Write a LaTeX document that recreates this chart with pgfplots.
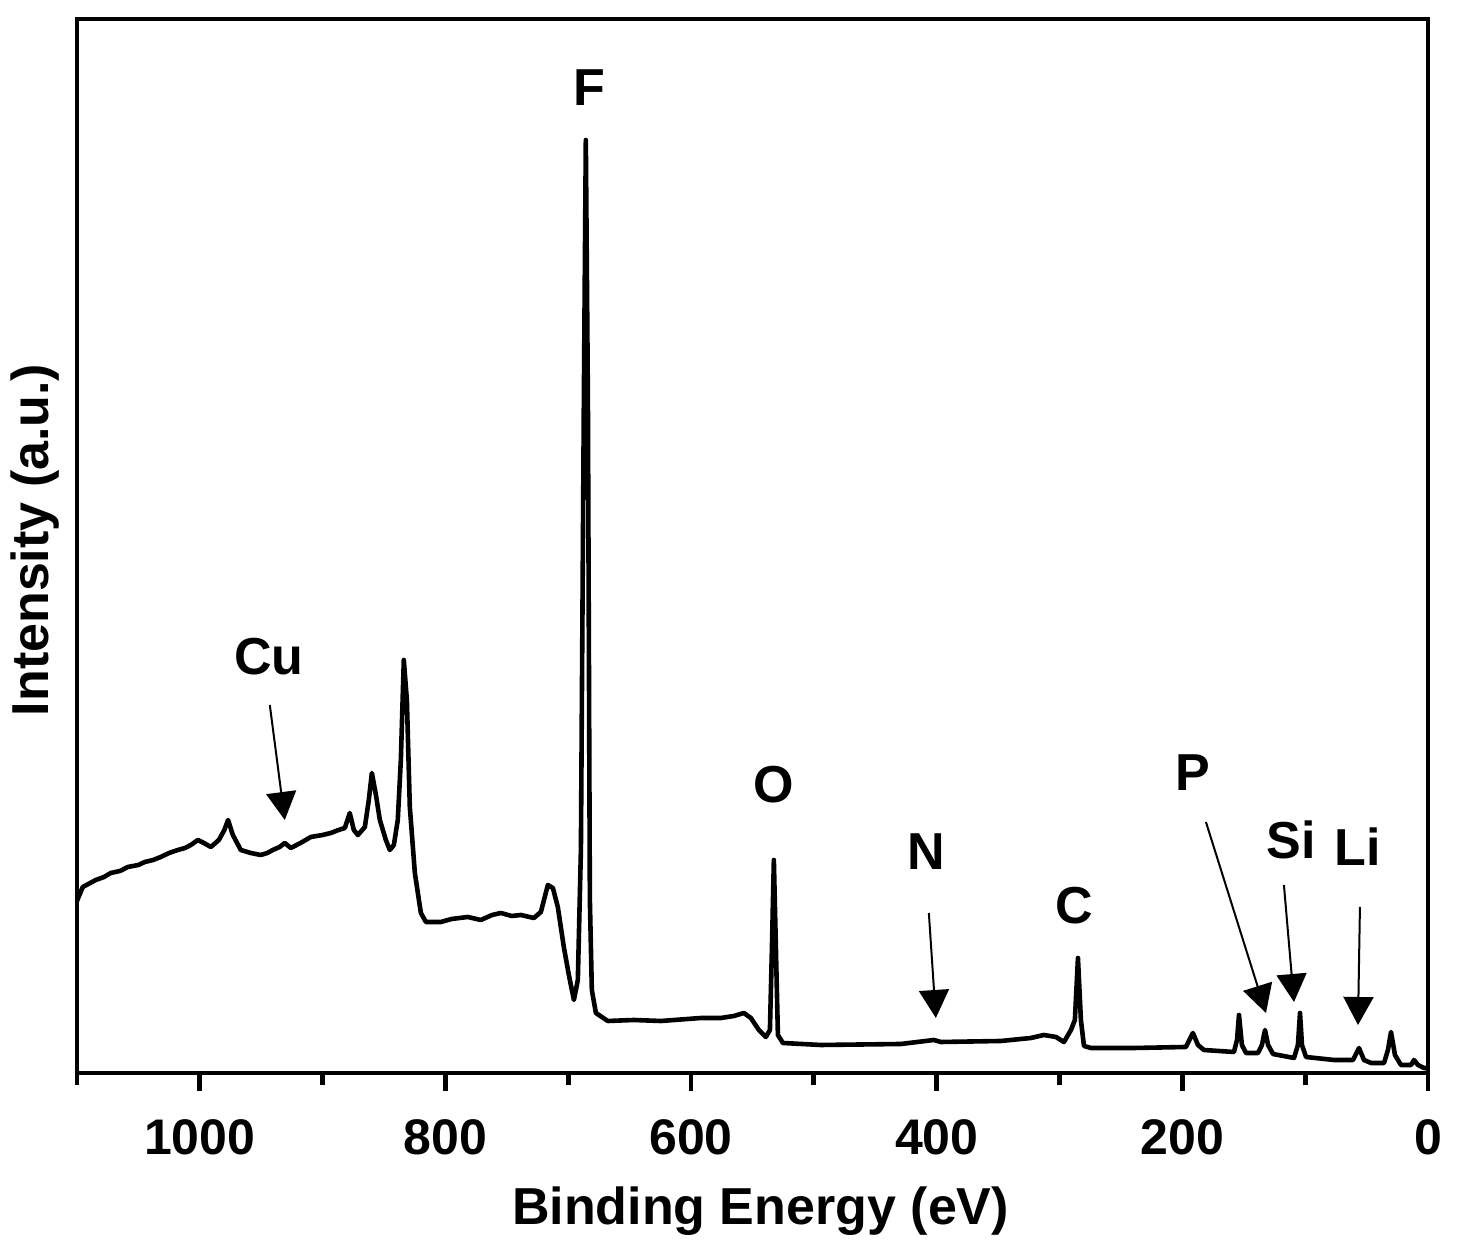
\documentclass[border=0pt]{standalone}
\usepackage{fontspec}
\setmainfont{Liberation Sans}
\usepackage{pgfplots}
\pgfplotsset{compat=1.18}
\usetikzlibrary{arrows.meta}
\pgfplotstableread{
x y
1100 172
1095.3 186
1084.7 193
1078 196
1072.5 200
1065 202
1058.6 206
1050 208
1044.8 211
1038 213
1031.8 216
1025 220
1017.9 223
1012 225
1007.3 228
1001.6 233
996.7 230
991.0 226
984.5 233
980 243
977.0 253
973.1 238
966.6 223
958.5 220
950.3 218
945 220
940.6 223
935 226
930.8 230
925.9 225
918 230
909.6 236
900 238
893.3 240
887 243
881.9 245
877.9 260
874.6 243
871.3 238
865.6 246
862.4 273
859.9 300
856.6 278
853.4 253
848.5 233
845.3 223
842.0 228
838.8 253
836.3 313
833.9 413
831.4 373
829.0 266
824.9 200
820.0 160
815.9 151
803.7 151
795 154
781.8 156
771.2 153
762 158
754.9 160
746 157
738.6 158
728.0 155
722.3 161
716.6 188
712.5 185
708.5 166
703.6 126
699.5 98
695.4 73
692.2 93
689.7 223
687.3 673
685.7 933
684.0 673
682.4 173
680.8 83
677.5 60
667.8 52
646.6 53
624.6 52
592.0 55
575.7 55
565.1 57
557.0 60
551.3 55
544.8 43
539.1 36
535.8 43
534.2 123
532.6 213
530.9 123
529.3 38
525.2 30
494.3 28
429.2 29
402.3 33
396.6 31
347.7 32
323.3 35
312.7 38
302.9 36
296.4 31
290.7 43
287.5 53
285.0 115
282.6 53
280.1 27
274.4 25
239.4 25
197.1 26
191.4 40
187.3 28
182.4 23
158.0 21
155.5 33
153.9 58
151.5 28
148.2 20
138.4 20
135.2 28
132.7 43
130.2 28
126.2 19
109.1 15
105.9 28
104.2 60
102.6 28
99.3 16
76.5 13
61.1 13
56.2 25
52.1 13
46.4 10
35.8 10
32.6 23
30.1 41
26.9 18
22.0 8
13.8 8
11.4 13
8.1 8
3.3 5
0 5
}\spectrum
\begin{document}
\begin{tikzpicture}
\useasboundingbox (-38.5pt,-86pt) rectangle (693pt,536.5pt);
\begin{axis}[
  scale only axis,
  width=675.5pt, height=527pt,
  xmin=0, xmax=1100, ymin=0, ymax=1054,
  x dir=reverse,
  xtick={0,200,...,1000},
  minor xtick={100,300,...,1100},
  ytick=\empty,
  tick align=outside,
  major tick length=9pt,
  minor tick length=6pt,
  every tick/.style={black, line width=2.4pt},
  axis line style={line width=2.4pt},
  xtick pos=bottom,
  /pgf/number format/assume math mode=true,
  /pgf/number format/1000 sep={},
  xticklabel style={font=\fontsize{25}{30}\selectfont\bfseries, anchor=base, yshift=-32pt},
  font=\fontsize{26}{31}\selectfont\bfseries,
  xlabel={Binding Energy (eV)},
  ylabel={Intensity (a.u.)},
  xlabel style={at={(axis description cs:0.5,0)}, anchor=base, yshift=-76pt, xshift=4pt},
  ylabel style={at={(axis description cs:0,0.5)}, anchor=center, yshift=21pt, xshift=3pt},
  clip=false,
]
\addplot[black, line width=2.3pt, line join=round] table[x=x,y=y] {\spectrum};
\node at (axis cs:943.8,416) {Cu};
\node at (axis cs:683.2,985) {F};
\node at (axis cs:532.6,288) {O};
\node at (axis cs:408.8,221) {N};
\node at (axis cs:288.3,167) {C};
\node at (axis cs:191.4,300) {P};
\node at (axis cs:111.6,233) {Si};
\node at (axis cs:57.0,226) {Li};
\begin{scope}[line width=1pt, -{Triangle[width=15pt,length=14pt]}]
\draw (axis cs:943.0,368) -- (axis cs:930.8,253);
\draw (axis cs:406.4,160) -- (axis cs:400.7,55);
\draw (axis cs:180.8,251) -- (axis cs:131.9,60);
\draw (axis cs:117.3,188) -- (axis cs:109.1,71);
\draw (axis cs:55.4,166) -- (axis cs:57.0,48);
\end{scope}
\end{axis}
\end{tikzpicture}
\end{document}
